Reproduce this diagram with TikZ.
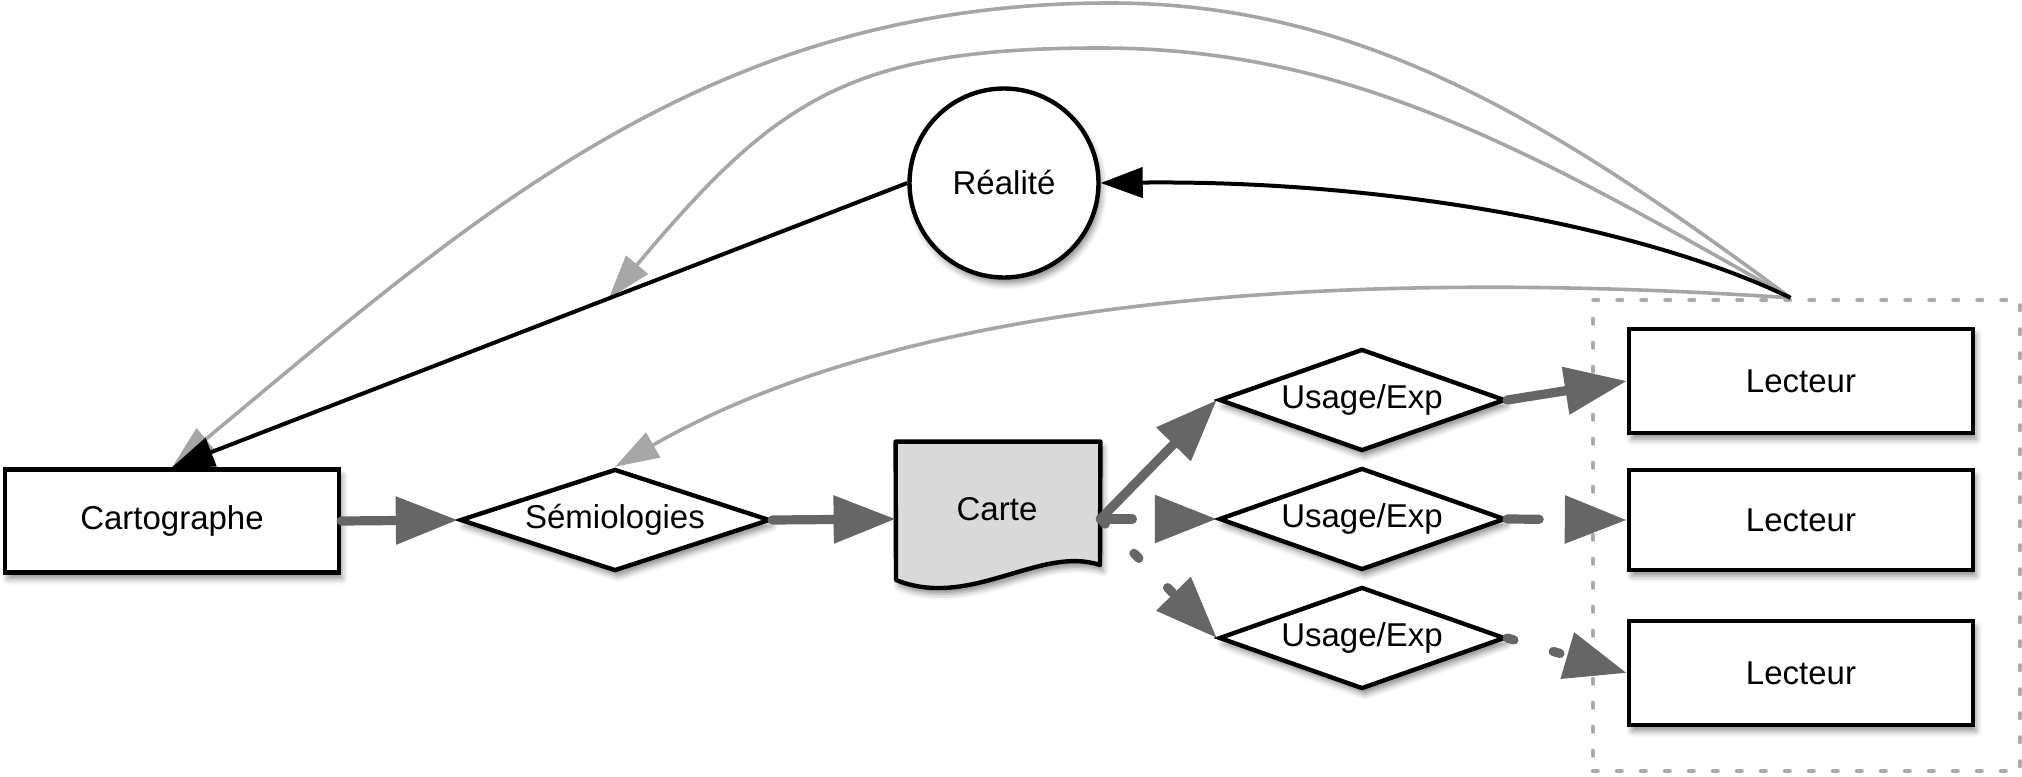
\documentclass[tikz,border=0pt]{standalone}
\usepackage{fontspec}
\setmainfont{Liberation Sans}
\usetikzlibrary{arrows.meta,shapes.geometric,shadows.blur}
\definecolor{cgthick}{HTML}{666666}
\definecolor{cglight}{HTML}{A6A6A6}
\definecolor{cgdash}{HTML}{AAAAAA}
\definecolor{cgfill}{HTML}{D9D9D9}
\begin{document}
\begin{tikzpicture}[x=0.5pt,y=-0.5pt,
  every node/.style={font=\fontsize{16.5}{19.8}\selectfont},
  softshadow/.style={blur shadow={shadow xshift=1.5pt,shadow yshift=-3pt,shadow blur radius=3pt,shadow opacity=45}},
  box/.style={draw,line width=2.2pt,fill=white,minimum height=51.5pt,inner sep=0pt,softshadow},
  dia/.style={diamond,draw,line width=2.2pt,fill=white,minimum height=51pt,inner sep=0pt,aspect=2.8,softshadow},
  circ/.style={circle,draw,line width=2.2pt,fill=white,minimum size=94.5pt,inner sep=0pt,softshadow},
  thickarrow/.style={draw=cgthick,line width=4.6pt,line cap=round,-{Triangle[length=31pt,width=23pt]},cgthick},
  longdash/.style={dash pattern=on 16pt off 30pt},
  shortdash/.style={dash pattern=on 3.5pt off 20.5pt},
  blackline/.style={draw=black,line width=2pt,-{Triangle[length=21pt,width=15pt]}},
  grayline/.style={draw=cglight,line width=1.8pt,-{Triangle[length=22pt,width=14pt]},cglight},
  groupbox/.style={draw=cgdash,line width=2.2pt,dash pattern=on 2.3pt off 9.7pt,line cap=round,inner sep=0pt}
]
\useasboundingbox (0,0) rectangle (2022,776);

% group of readers
\node[groupbox,minimum width=213.5pt,minimum height=235.5pt] (grp) at (1806.5,535.5) {};
\coordinate (conv) at ([xshift=-8pt]grp.north);

% nodes
\node[box,minimum width=167pt] (carto) at (172,521) {Cartographe};
\node[dia,minimum width=155pt] (semio) at (615,520) {Sémiologies};
\node[circ] (real) at (1004,183) {Réalité};
\node[inner sep=0pt,minimum width=102pt,minimum height=77pt] (carte) at (998,519) {};
\path[draw,fill=cgfill,line width=2.2pt,line join=round,softshadow]
  (carte.north west) -- (carte.north east) -- (1100,565)
  .. controls (1040,545) and (970,610) .. (896,580) -- cycle;
\node (cartelabel) at (997,509) {Carte};

\node[dia,minimum width=143pt] (u1) at (1362,400) {Usage/Exp};
\node[dia,minimum width=143pt] (u2) at (1362,519) {Usage/Exp};
\node[dia,minimum width=143pt] (u3) at (1362,638) {Usage/Exp};

\node[box,minimum width=172pt,minimum height=52pt] (l1) at (1801,381) {Lecteur};
\node[box,minimum width=172pt,minimum height=50pt] (l2) at (1801,520) {Lecteur};
\node[box,minimum width=172pt,minimum height=52pt] (l3) at (1801,673) {Lecteur};

% thick flow arrows
\draw[thickarrow] (carto.east) -- (semio.west);
\draw[thickarrow] (semio.east) -- (carte.west);
\draw[thickarrow] (carte.east) -- (u1.west);
\draw[thickarrow,longdash] (carte.east) -- (u2.west);
\draw[thickarrow,shortdash] (carte.east) -- (u3.west);
\draw[thickarrow] (u1.east) -- (l1.west);
\draw[thickarrow,longdash] (u2.east) -- (l2.west);
\draw[thickarrow,shortdash] (u3.east) -- (l3.west);

% feedback curves
\path (real.west) -- coordinate[pos=0.406] (mid) (carto.north);
\draw[grayline] (conv) .. controls (1550,120) and (1360,3) .. (1110,3)
  .. controls (710,3) and (478,213) .. (carto.north);
\draw[grayline] (conv) .. controls (1530,150) and (1350,48) .. (1100,48)
  .. controls (850,48) and (776,99) .. (mid);
\draw[grayline] (conv) .. controls (1450,275) and (950,275) .. (semio.north);
\draw[blackline] (real.west) -- (carto.north);
\draw[blackline] (conv) .. controls (1640,225) and (1380,180) .. (real.east);
\end{tikzpicture}
\end{document}
